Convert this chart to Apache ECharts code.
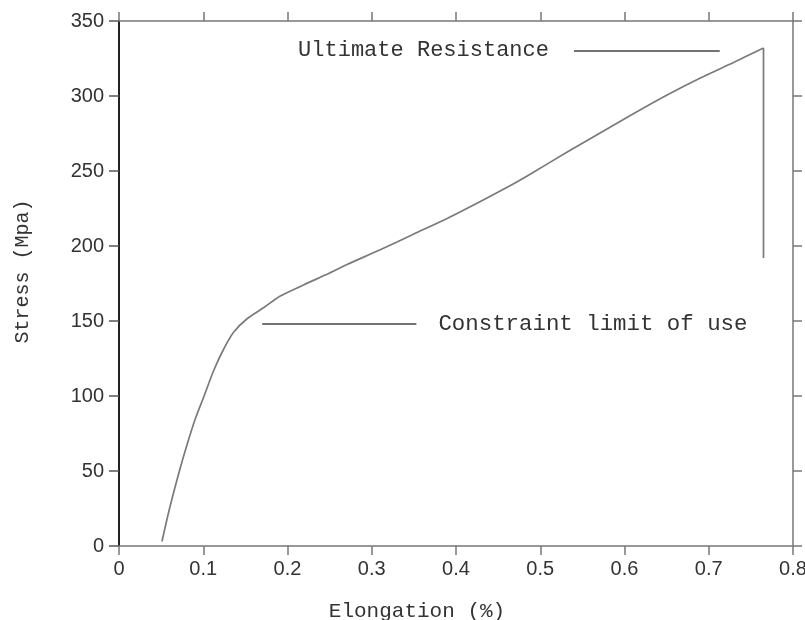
<!DOCTYPE html>
<html>
<head>
<meta charset="utf-8">
<script src="https://cdn.jsdelivr.net/npm/echarts@6/dist/echarts.min.js"></script>
<style>html,body{margin:0;padding:0;background:#fff;}#c{width:805px;height:620px;}</style>
</head>
<body>
<div id="c"></div>
<script>
const elongation = [0.051, 0.060, 0.0717, 0.081, 0.0907, 0.101, 0.1124, 0.124, 0.136, 0.152, 0.172, 0.191, 0.219, 0.25, 0.27, 0.31, 0.35, 0.39, 0.43, 0.47, 0.49, 0.53, 0.57, 0.61, 0.65, 0.69, 0.73, 0.765];
const stress =     [3, 25, 50, 68, 85, 100, 117, 131, 142.5, 151.5, 159, 166.5, 174, 182, 187.5, 197.5, 208, 218.5, 230, 242, 248.5, 262, 275, 288, 300.5, 312, 322.5, 332];
const dropElongation = [0.765, 0.765];
const dropStress = [332, 192];
const ultimateLine = {label: 'Ultimate Resistance', y: 330, x0: 0.54, x1: 0.713};
const constraintLine = {label: 'Constraint limit of use', y: 148, x0: 0.170, x1: 0.353};

const chart = echarts.init(document.getElementById('c'), null, {renderer: 'canvas'});
const mono = '"Liberation Mono", "Courier New", monospace';
const sans = '"Liberation Sans", Arial, sans-serif';
const axisBase = {
  type: 'value', min: 0,
  splitLine: {show: false},
  axisLine: {show: true, onZero: false, lineStyle: {color: '#777', width: 1.5}},
  axisTick: {show: true, inside: false, length: 9, lineStyle: {color: '#777', width: 1.5}}
};
const curveStyle = {color: '#7a7a7a', width: 1.7};
chart.setOption({
  animation: false,
  backgroundColor: '#fff',
  grid: {left: 119, right: 12, top: 21, bottom: 74, containLabel: false, outerBoundsMode: 'none'},
  xAxis: [
    Object.assign({}, axisBase, {
      position: 'bottom', max: 0.8, interval: 0.1,
      axisLabel: {show: true, color: '#333', fontFamily: sans, fontSize: 20, margin: 13,
        formatter: v => (Math.round(v * 10) / 10).toString()},
      name: 'Elongation (%)', nameLocation: 'middle', nameGap: 55,
      nameTextStyle: {fontFamily: mono, fontSize: 21, color: '#333', padding: [0, 78, 0, 0]}
    }),
    Object.assign({}, axisBase, {
      position: 'top', max: 0.8, interval: 0.1,
      axisLabel: {show: false}
    })
  ],
  yAxis: [
    Object.assign({}, axisBase, {
      position: 'left', max: 350, interval: 50,
      axisLine: {show: true, onZero: false, lineStyle: {color: '#222', width: 2}},
      axisTick: {show: true, length: 10, lineStyle: {color: '#555', width: 1.5}},
      axisLabel: {show: true, color: '#333', fontFamily: sans, fontSize: 20, margin: 15},
      name: 'Stress (Mpa)', nameLocation: 'middle', nameGap: 86,
      nameTextStyle: {fontFamily: mono, fontSize: 20, color: '#333', padding: [0, 0, 0, 24]}
    }),
    Object.assign({}, axisBase, {
      position: 'right', max: 350, interval: 50,
      axisLabel: {show: false}
    })
  ],
  series: [{
    type: 'line',
    xAxisIndex: 0, yAxisIndex: 0,
    data: elongation.map((x, i) => [x, stress[i]]),
    showSymbol: false,
    symbol: 'none',
    smooth: 0.3,
    lineStyle: curveStyle,
    markLine: {
      silent: true,
      symbol: ['none', 'none'],
      lineStyle: {color: '#444', width: 1.5, type: 'solid'},
      data: [
        [
          {coord: [ultimateLine.x0, ultimateLine.y],
           label: {show: true, position: 'start', formatter: ultimateLine.label, distance: 25,
             fontFamily: mono, fontSize: 22, color: '#333', offset: [0, -1]}},
          {coord: [ultimateLine.x1, ultimateLine.y]}
        ],
        [
          {coord: [constraintLine.x0, constraintLine.y],
           label: {show: true, position: 'end', formatter: constraintLine.label, distance: 22,
             fontFamily: mono, fontSize: 22.4, color: '#333'}},
          {coord: [constraintLine.x1, constraintLine.y]}
        ]
      ]
    }
  }, {
    type: 'line',
    xAxisIndex: 0, yAxisIndex: 0,
    data: dropElongation.map((x, i) => [x, dropStress[i]]),
    showSymbol: false,
    symbol: 'none',
    lineStyle: curveStyle
  }]
});
</script>
</body>
</html>
